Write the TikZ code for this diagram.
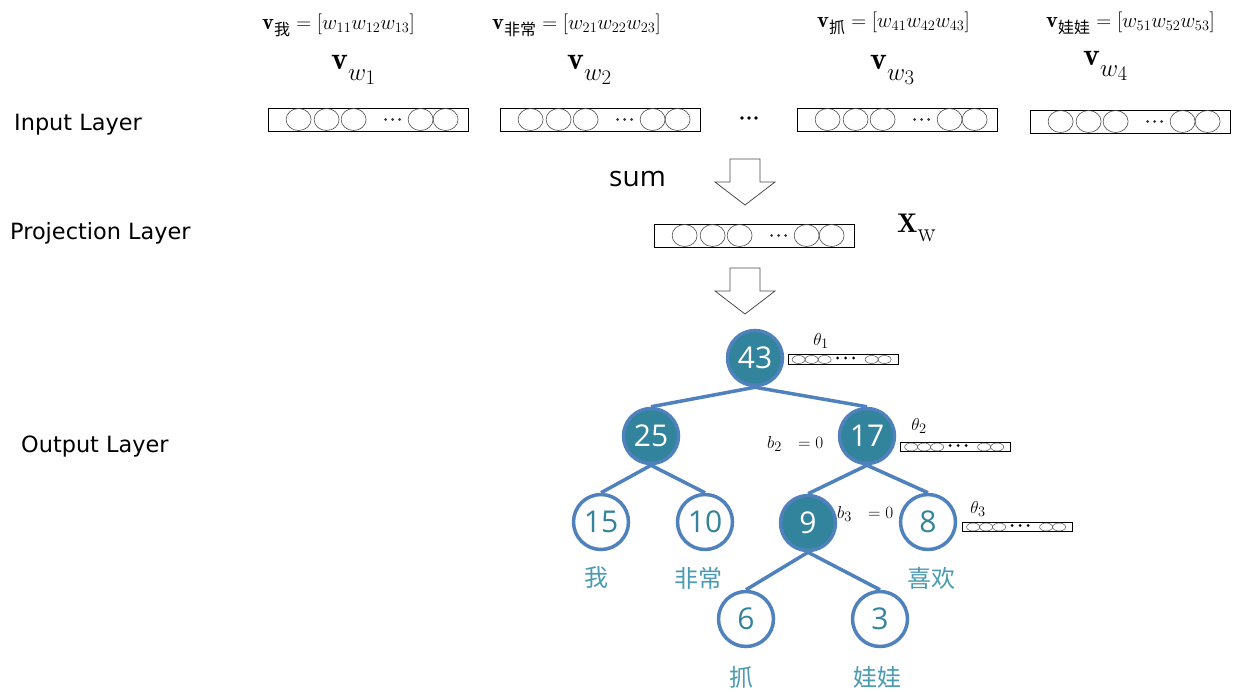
\documentclass[tikz,border=0pt]{standalone}
\usepackage{amsmath}
\usepackage{fontspec}
\newfontfamily\cjk{Noto Sans CJK SC}
\newfontfamily\layerfont{DejaVu Sans}
\newfontfamily\numfont{Open Sans}
\usetikzlibrary{backgrounds}

\definecolor{nodeteal}{HTML}{31849B}
\definecolor{edgeblue}{HTML}{4F81BD}
\definecolor{wordteal}{HTML}{4A9AB2}

\tikzset{
  inode/.style={circle, draw=edgeblue, line width=3.5pt, fill=nodeteal, minimum size=55,
    inner sep=0pt, text=white, font=\numfont\fontsize{30}{30}\selectfont},
  lnode/.style={inode, fill=white, text=nodeteal},
  treeedge/.style={draw=edgeblue, line width=3.5pt},
  layerlbl/.style={anchor=base west, inner sep=0pt, font=\layerfont\fontsize{22.4}{26}\selectfont},
  wordlbl/.style={text=wordteal, inner sep=0pt, font=\cjk\fontsize{24}{26}\selectfont},
  vecbox/.style={draw, line width=0.8pt, minimum width=200, minimum height=23, inner sep=0pt},
  thetabox/.style={draw, line width=0.8pt, minimum width=110, minimum height=9.5, inner sep=0pt},
  cellc/.style={draw=black!70, line width=0.6pt},
  smallmath/.style={anchor=base west, inner sep=0pt, font=\fontsize{22.5}{26}\selectfont},
  bigmath/.style={anchor=base west, inner sep=0pt, font=\fontsize{32}{34}\selectfont},
  annot/.style={inner sep=0pt, font=\fontsize{19}{22}\selectfont},
  hollowarrow/.style={draw=black!70, line width=0.8pt, fill=white}
}

% bold vector name with a lowered subscript
\newcommand\bigvec[1]{$\mathbf{v}$\raisebox{-11pt}{\fontsize{29}{30}\selectfont$w_{#1}$}}
\newcommand\wordvec[1]{$\mathbf{v}$\raisebox{-6pt}{\cjk\fontsize{16}{16}\selectfont #1}}

% circles and dots inside a word vector box
\newcommand\vecdots[1]{%
  \foreach \dx in {31,59,86,153,178}
    \draw[cellc] ([xshift=\dx]#1.west) ellipse (12.5 and 11);
  \foreach \dx in {118,125,132}
    \fill[black!80] ([xshift=\dx]#1.west) circle (1.4);
}
% smaller version for the theta vectors
\newcommand\thetadots[1]{%
  \foreach \dx in {11,24,37,84,97}
    \draw[cellc, line width=0.5pt] ([xshift=\dx]#1.west) ellipse (6.5 and 4);
  \foreach \dx in {50,58,66}
    \fill[black] ([xshift=\dx,yshift=1.5]#1.west) circle (1.6);
}
% hollow down arrow: top centre (#1,#2)
\newcommand\hollowdown[2]{%
  \draw[hollowarrow] (#1-15,#2) -- (#1+15,#2) -- (#1+15,#2+23) -- (#1+30,#2+23)
    -- (#1,#2+46) -- (#1-30,#2+23) -- (#1-15,#2+23) -- cycle;
}

\begin{document}
\begin{tikzpicture}[x=1pt,y=-1pt]
\useasboundingbox (0,0) rectangle (1236,691);

% layer names
\node[layerlbl] (lin)  at (14,130) {Input Layer};
\node[layerlbl] (lpro) at (10,239) {Projection Layer};
\node[layerlbl] (lout) at (21,452) {Output Layer};

% word vector definitions
\node[smallmath] (d1) at (262,29) {\wordvec{我}\;$=[w_{11}w_{12}w_{13}]$};
\node[smallmath] (d2) at (492,29) {\wordvec{非常}\;$=[w_{21}w_{22}w_{23}]$};
\node[smallmath] (d3) at (817,27) {\wordvec{抓}\;$=[w_{41}w_{42}w_{43}]$};
\node[smallmath] (d4) at (1046,27) {\wordvec{娃娃}\;$=[w_{51}w_{52}w_{53}]$};

\node[bigmath] (n1) at (331,69) {\bigvec{1}};
\node[bigmath] (n2) at (567,69) {\bigvec{2}};
\node[bigmath] (n3) at (870,69) {\bigvec{3}};
\node[bigmath] (n4) at (1083,65) {\bigvec{4}};

% input layer boxes
\node[vecbox] (b1) at (368,119.5) {};
\node[vecbox] (b2) at (600,119.5) {};
\node[vecbox] (b3) at (897,119.5) {};
\node[vecbox] (b4) at (1130,121.5) {};
\vecdots{b1}\vecdots{b2}\vecdots{b3}\vecdots{b4}
\node[inner sep=0pt] (gap) at (749,118) {};
\foreach \dx in {-7,0,7} \fill[black] ([xshift=\dx]gap) circle (1.9);

% sum into projection
\node[anchor=base west, inner sep=0pt, font=\numfont\fontsize{28}{30}\selectfont] (sum) at (609,186) {sum};
\hollowdown{745}{159}
\node[vecbox] (proj) at (754,235.5) {};
\vecdots{proj}
\node[anchor=base west, inner sep=0pt, font=\fontsize{27}{30}\selectfont] (xw) at (897,232) {$\mathbf{X}$\raisebox{-9pt}{$\mathrm{w}$}};
\hollowdown{745}{268}

% Huffman tree
\node[inode] (t43) at (755,358) {43};
\node[inode] (t25) at (651,436) {25};
\node[inode] (t17) at (867,436) {17};
\node[lnode] (t15) at (601,522) {15};
\node[lnode] (t10) at (705,522) {10};
\node[inode] (t9)  at (808,523) {9};
\node[lnode] (t8)  at (928,522) {8};
\node[lnode] (t6)  at (746,619) {6};
\node[lnode] (t3)  at (880,619) {3};

\begin{scope}[on background layer]
  \draw[treeedge] (t43.south) -- (t25.north);
  \draw[treeedge] (t43.south) -- (t17.north);
  \draw[treeedge] (t25.south) -- (t15.north);
  \draw[treeedge] (t25.south) -- (t10.north);
  \draw[treeedge] (t17.south) -- (t9.north);
  \draw[treeedge] (t17.south) -- (t8.north);
  \draw[treeedge] (t9.south)  -- (t6.north);
  \draw[treeedge] (t9.south)  -- (t3.north);
\end{scope}

% leaf words
\node[wordlbl] (w15) at (596,578) {我};
\node[wordlbl] (w10) at (698,578) {非常};
\node[wordlbl] (w8)  at (931,578) {喜欢};
\node[wordlbl] (w6)  at (741,677) {抓};
\node[wordlbl] (w3)  at (877,677) {娃娃};

% parameter vectors of the inner nodes
\node[thetabox] (th1) at (843,359.5) {};
\thetadots{th1}
\node[annot] (th1l) at (821,341) {$\theta_1$};
\node[thetabox] (th2) at (955.5,447) {};
\thetadots{th2}
\node[annot] (th2l) at (919,426) {$\theta_2$};
\node[thetabox] (th3) at (1017.5,527) {};
\thetadots{th3}
\node[annot] (th3l) at (978,509) {$\theta_3$};

% codes
\node[annot, anchor=base west] (c2) at (767,448) {$b_2\ \ =0$};
\node[annot, anchor=base west] (c3) at (837,518) {$b_3\ \ =0$};
\end{tikzpicture}
\end{document}
